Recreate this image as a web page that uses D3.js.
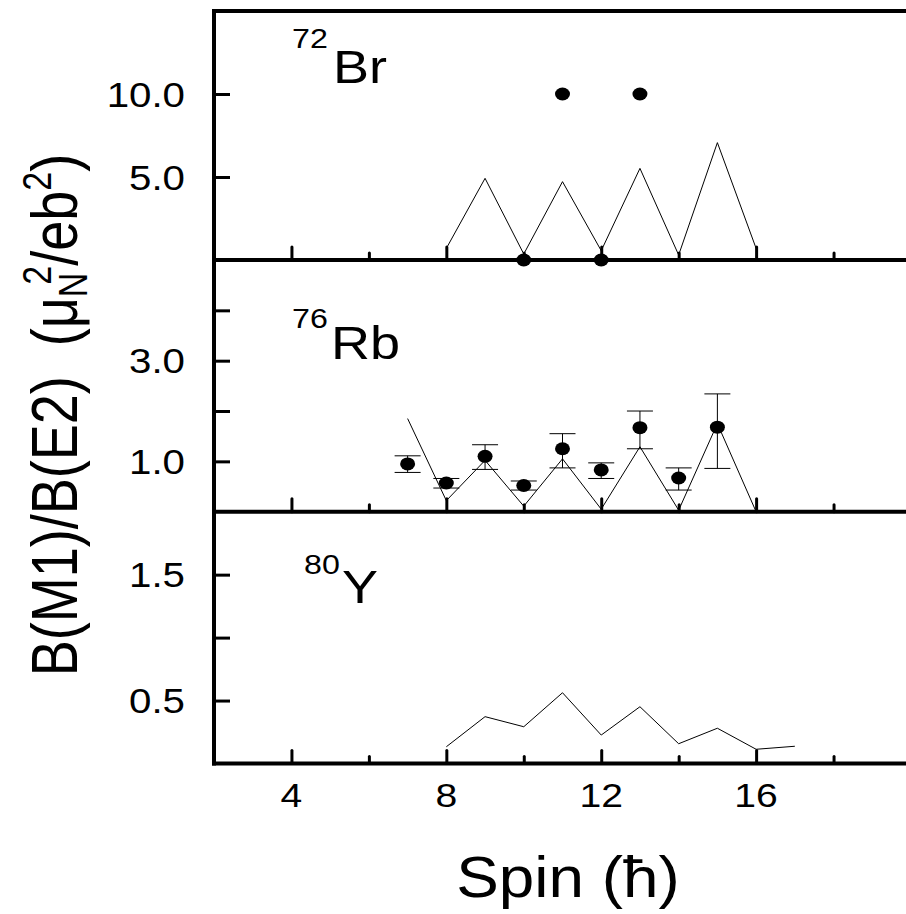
<!DOCTYPE html>
<html>
<head>
<meta charset="utf-8">
<script src="https://cdn.jsdelivr.net/npm/d3@7"></script>
<style>
  html, body { margin: 0; padding: 0; background: #fff; }
  svg { display: block; }
  text { font-family: "Liberation Sans", Arial, Helvetica, sans-serif; fill: #000; }
</style>
</head>
<body>
<div id="chart"></div>
<script>
// ---------- data ----------
const xDomain = [2, 20];
const xMajorTicks = [4, 8, 12, 16, 20];
const xMinorTicks = [6, 10, 14, 18];
const xTickLabels = ["4", "8", "12", "16", ""];

// 72Br
const br72LineSpin = [8, 9, 10, 11, 12, 13, 14, 15, 16];
const br72LineVal  = [0.70, 4.92, 0.36, 4.72, 0.56, 5.52, 0.30, 7.07, 0.70];
const br72PtSpin   = [10, 11, 12, 13];
const br72PtVal    = [0, 10, 0, 10];
const br72YDomain  = [0, 15];
const br72YTicks   = [5, 10];
const br72YLabels  = ["5.0", "10.0"];

// 76Rb
const rb76LineSpin = [7, 8, 9, 10, 11, 12, 13, 14, 15, 16];
const rb76LineVal  = [1.85, 0.22, 1.02, 0.11, 1.05, 0.05, 1.29, 0.03, 1.75, 0.0];
const rb76PtSpin   = [7, 8, 9, 10, 11, 12, 13, 14, 15];
const rb76PtVal    = [0.95, 0.57, 1.10, 0.52, 1.25, 0.83, 1.67, 0.67, 1.68];
const rb76ErrHi    = [1.11, 0.66, 1.33, 0.61, 1.55, 0.97, 2.00, 0.87, 2.34];
const rb76ErrLo    = [0.78, 0.47, 0.84, 0.43, 0.87, 0.66, 1.25, 0.43, 0.86];
const rb76YDomain  = [0, 5];
const rb76YTicks   = [1, 2, 3, 4];
const rb76YLabels  = ["1.0", "", "3.0", ""];

// 80Y
const y80LineSpin  = [8, 9, 10, 11, 12, 13, 14, 15, 16, 17];
const y80LineVal   = [0.133, 0.372, 0.292, 0.562, 0.226, 0.451, 0.157, 0.28, 0.113, 0.137];
const y80YDomain   = [0, 2];
const y80YTicks    = [0.5, 1.0, 1.5];
const y80YLabels   = ["0.5", "", "1.5"];

const panelNames = [["72", "Br"], ["76", "Rb"], ["80", "Y"]];

// ---------- layout ----------
const W = 906, H = 914;
const left = 214, right = 911;
const panelTops = [11, 260, 511.7];
const panelBottoms = [260, 511.7, 763.5];
const SX = 1.15; // horizontal stretch of the lettering

const svg = d3.select("#chart").append("svg")
  .attr("width", W).attr("height", H)
  .attr("viewBox", `0 0 ${W} ${H}`);
svg.append("rect").attr("width", W).attr("height", H).attr("fill", "#fff");

const x = d3.scaleLinear().domain(xDomain).range([left, right]);

function stext(g, px, py, size, str, anchor) {
  return g.append("text")
    .attr("transform", `translate(${px},${py}) scale(${SX},1)`)
    .attr("text-anchor", anchor || "start")
    .style("font-size", size + "px")
    .text(str);
}

const panels = [
  { yDomain: br72YDomain, yTicks: br72YTicks, yLabels: br72YLabels,
    line: br72LineSpin.map((s, i) => [s, br72LineVal[i]]),
    pts: br72PtSpin.map((s, i) => ({ s, v: br72PtVal[i] })) },
  { yDomain: rb76YDomain, yTicks: rb76YTicks, yLabels: rb76YLabels,
    line: rb76LineSpin.map((s, i) => [s, rb76LineVal[i]]),
    pts: rb76PtSpin.map((s, i) => ({ s, v: rb76PtVal[i], hi: rb76ErrHi[i], lo: rb76ErrLo[i] })) },
  { yDomain: y80YDomain, yTicks: y80YTicks, yLabels: y80YLabels,
    line: y80LineSpin.map((s, i) => [s, y80LineVal[i]]),
    pts: [] }
];

// top border
svg.append("line").attr("x1", left - 2).attr("x2", W).attr("y1", panelTops[0]).attr("y2", panelTops[0])
  .attr("stroke", "#000").attr("stroke-width", 4);

panels.forEach((p, k) => {
  const top = panelTops[k], bot = panelBottoms[k];
  const y = d3.scaleLinear().domain(p.yDomain).range([bot, top]);
  const g = svg.append("g");

  // left axis segment
  g.append("line").attr("x1", left).attr("x2", left).attr("y1", top).attr("y2", bot + 2)
    .attr("stroke", "#000").attr("stroke-width", 4);

  // y ticks (inward)
  const yAxis = d3.axisRight(y).tickValues(p.yTicks).tickSize(16).tickFormat("");
  const ya = g.append("g").attr("transform", `translate(${left},0)`).call(yAxis);
  ya.select(".domain").remove();
  ya.selectAll(".tick line").attr("stroke", "#000").attr("stroke-width", 3);

  // y tick labels
  p.yTicks.forEach((t, i) => {
    if (p.yLabels[i]) stext(g, 185, y(t) + 12.5, 35, p.yLabels[i], "end");
  });

  // x ticks (inward, pointing up)
  const xMaj = d3.axisTop(x).tickValues(xMajorTicks).tickSize(13).tickFormat("");
  const xm = g.append("g").attr("transform", `translate(0,${bot})`).call(xMaj);
  xm.select(".domain").remove();
  xm.selectAll(".tick line").attr("stroke", "#000").attr("stroke-width", 3).attr("stroke-linecap", "round");
  const xMin = d3.axisTop(x).tickValues(xMinorTicks).tickSize(7).tickFormat("");
  const xn = g.append("g").attr("transform", `translate(0,${bot})`).call(xMin);
  xn.select(".domain").remove();
  xn.selectAll(".tick line").attr("stroke", "#000").attr("stroke-width", 3).attr("stroke-linecap", "round");

  // bottom axis line of the panel
  g.append("line").attr("x1", left - 2).attr("x2", W).attr("y1", bot).attr("y2", bot)
    .attr("stroke", "#000").attr("stroke-width", 4);

  // model line
  const lineGen = d3.line().x(d => x(d[0])).y(d => y(d[1]));
  g.append("path").datum(p.line).attr("d", lineGen)
    .attr("fill", "none").attr("stroke", "#000").attr("stroke-width", 1);

  // error bars
  const eb = g.selectAll(".eb").data(p.pts.filter(d => d.hi !== undefined)).enter().append("g");
  eb.append("line").attr("x1", d => x(d.s)).attr("x2", d => x(d.s))
    .attr("y1", d => y(d.hi)).attr("y2", d => y(d.lo)).attr("stroke", "#000").attr("stroke-width", 1);
  eb.append("line").attr("x1", d => x(d.s) - 13).attr("x2", d => x(d.s) + 13)
    .attr("y1", d => y(d.hi)).attr("y2", d => y(d.hi)).attr("stroke", "#000").attr("stroke-width", 1);
  eb.append("line").attr("x1", d => x(d.s) - 13).attr("x2", d => x(d.s) + 13)
    .attr("y1", d => y(d.lo)).attr("y2", d => y(d.lo)).attr("stroke", "#000").attr("stroke-width", 1);

  // experimental points
  g.selectAll(".pt").data(p.pts).enter().append("ellipse")
    .attr("cx", d => x(d.s)).attr("cy", d => y(d.v))
    .attr("rx", 7.5).attr("ry", 6.5).attr("fill", "#000");
});

// panel labels
const labelPos = [[292, 48, 333, 83], [292, 328, 331, 359], [304, 574, 342, 603]];
panelNames.forEach((n, k) => {
  const [sx, sy, mx, my] = labelPos[k];
  stext(svg, sx, sy, 28, n[0]);
  stext(svg, mx, my, 47, n[1]);
});

// x tick labels (bottom panel only)
xMajorTicks.forEach((t, i) => {
  if (xTickLabels[i]) stext(svg, x(t), 807, 34, xTickLabels[i], "middle");
});

// x axis title
svg.append("text")
  .attr("transform", `translate(568,897) scale(1.1,1)`)
  .attr("text-anchor", "middle")
  .style("font-size", "58px")
  .text("Spin (\u0127)");

// y axis title (rotated)
const yt = svg.append("text")
  .attr("transform", `translate(77,415) rotate(-90) scale(1,1.2)`)
  .attr("text-anchor", "middle")
  .style("font-size", "54px");
yt.append("tspan").text("B(M1)/B(E2)");
yt.append("tspan").attr("dx", 30).text("(\u03bc");
yt.append("tspan").attr("dy", 8).style("font-size", "34px").text("N");
yt.append("tspan").attr("dx", -12).attr("dy", -30).style("font-size", "34px").text("2");
yt.append("tspan").attr("dy", 22).text("/eb");
yt.append("tspan").attr("dy", -22).style("font-size", "34px").text("2");
yt.append("tspan").attr("dy", 22).text(")");
</script>
</body>
</html>
